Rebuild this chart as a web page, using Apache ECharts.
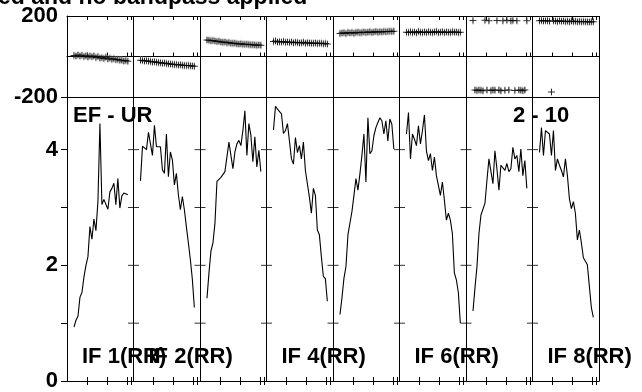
<!DOCTYPE html>
<html>
<head>
<meta charset="utf-8">
<script src="https://cdn.jsdelivr.net/npm/echarts@6/dist/echarts.min.js"></script>
<style>
  html, body { margin: 0; padding: 0; background: #fff; }
  #main { width: 642px; height: 392px; }
</style>
</head>
<body>
<div id="main"></div>
<script>
// channels plotted in every IF panel (x inside a panel = channel * CHAN_W)
const channels = [7,9,11,13,15,17,19,21,23,25,27,29,31,33,35,37,39,41,43,45,47,49,51,53,55,57,59,61];
const CHAN_W = 0.015;
const chanTicks = [20, 40, 60, 64];

// amplitude per IF
const amp1 = [0.93,1.05,1.12,1.45,1.53,1.8,2.0,2.15,2.67,2.45,2.8,2.6,3.1,4.45,3.05,3.14,3.12,2.97,3.27,3.33,3.42,3.05,3.5,2.99,3.2,3.25,3.27,3.22];
const amp2 = [3.46,4.06,4.03,4.0,4.3,4.1,3.9,4.42,4.05,4.07,4.05,3.65,3.59,4.27,3.53,3.96,3.82,3.39,3.59,3.22,2.96,3.19,2.96,2.67,2.39,2.1,1.76,1.27];
const amp3 = [1.43,1.87,2.25,2.39,2.73,3.45,3.47,3.52,3.49,3.62,3.62,4.13,3.9,3.67,3.96,4.1,4.16,4.07,4.33,4.67,3.9,4.45,4.25,3.79,4.22,3.7,3.99,3.62];
const amp4 = [4.34,4.75,4.7,4.67,4.62,4.28,4.33,4.45,4.15,3.84,3.75,4.21,3.95,4.07,3.84,4.13,3.64,3.41,3.18,2.9,3.33,3.21,2.61,2.53,2.15,1.81,1.77,1.38];
const amp5 = [1.15,1.44,1.78,1.98,2.53,2.53,2.93,3.21,3.5,3.3,3.58,3.9,4.27,3.44,4.55,3.93,3.98,4.24,4.38,4.47,4.55,4.5,4.27,4.5,4.15,4.53,4.44,4.01];
const amp6 = [4.27,4.64,3.84,4.27,4.18,4.07,4.41,4.1,4.33,4.6,3.98,3.81,3.93,3.64,3.87,3.55,3.55,3.21,3.44,3.13,2.78,2.9,2.78,2.55,1.87,1.75,1.53,1.0];
const amp7 = [1.21,1.61,1.98,2.55,2.87,2.84,3.07,3.47,3.84,3.87,3.41,3.98,3.67,3.3,3.73,3.7,3.64,3.76,3.62,3.67,4.04,3.84,3.9,3.62,4.01,3.55,3.81,3.33];
const amp8 = [3.95,4.38,3.9,4.33,4.33,4.27,3.9,4.33,3.64,3.84,3.73,3.64,3.53,3.84,3.55,3.15,2.98,3.1,2.9,2.44,2.61,2.39,2.13,2.13,2.01,1.64,1.27,1.1];

// phase (degrees) per IF
const phase1 = [5,3,8,2,6,0,4,-2,3,-1,2,-5,0,-8,-6,-10,-4,-12,-9,-14,-11,-16,-15,-19,-18,-22,-20,-24];
const phase2 = [-18,-20,-22,-21,-24,-25,-27,-26,-29,-30,-31,-33,-32,-35,-36,-37,-38,-40,-39,-42,-41,-43,-44,-45,-44,-46,-47,-48];
const phase3 = [82,80,78,79,76,74,75,72,70,71,68,69,66,65,66,63,62,63,61,60,61,59,58,58,57,56,57,55];
const phase4 = [74,76,72,73,71,74,70,71,69,72,68,70,69,67,68,70,66,68,67,65,66,67,64,66,65,63,64,62];
const phase5 = [114,116,117,113,118,116,119,115,118,120,117,119,121,118,120,122,119,121,123,120,122,121,124,122,123,125,124,125];
const phase6 = [120,118,122,119,121,117,123,120,118,121,119,122,120,118,121,123,119,120,122,118,121,120,119,122,120,121,119,120];
const phase7 = [178,-166,-168,-165,-167,-169,179,-166,177,-168,-165,-167,178,-166,-169,176,-167,179,-165,177,178,-168,176,-166,-167,-169,-165,177];
const phase8 = [176,178,175,177,176,174,-175,176,175,173,176,174,175,173,174,172,175,173,174,172,173,171,173,172,171,170,172,171];

const ampList = [amp1, amp2, amp3, amp4, amp5, amp6, amp7, amp8];
const phaseList = [phase1, phase2, phase3, phase4, phase5, phase6, phase7, phase8];

const phaseLabels = [-200, 200];
const ampLabels = [0, 2, 4];
const ifLabelPanels = [0, 1, 3, 5, 7];
const ifLabels = ['IF 1(RR)', 'IF 2(RR)', 'IF 4(RR)', 'IF 6(RR)', 'IF 8(RR)'];

const chart = echarts.init(document.getElementById('main'));

const FONT = '"Liberation Sans", Arial, sans-serif';
const tickPos = [];
for (let p = 0; p < 8; p++) chanTicks.forEach(c => tickPos.push(p + c * CHAN_W));

// axis carrying the small channel ticks
function xAx(grid, pos) {
  return {
    type: 'value', gridIndex: grid, position: pos, min: 0, max: 8, interval: 1,
    axisLine: { show: true, lineStyle: { color: '#000', width: 1 } },
    axisTick: { show: true, inside: true, length: 4, customValues: tickPos, lineStyle: { color: '#000' } },
    axisLabel: { show: false },
    splitLine: { show: false }
  };
}
// axis that only draws the panel borders
function borderAx(grid) {
  return {
    type: 'value', gridIndex: grid, position: 'bottom', min: 0, max: 8, interval: 1,
    axisLine: { show: false }, axisTick: { show: false }, axisLabel: { show: false },
    splitLine: { show: true, lineStyle: { color: '#000', width: 1 } }
  };
}

const series = [];
ampList.forEach((arr, p) => {
  series.push({
    type: 'line', xAxisIndex: 2, yAxisIndex: 1, showSymbol: false, silent: true,
    lineStyle: { color: '#000', width: 1.1 },
    data: arr.map((v, k) => [p + channels[k] * CHAN_W, v])
  });
});
const phasePts = [];
phaseList.forEach((arr, p) => arr.forEach((v, k) => phasePts.push([p + channels[k] * CHAN_W, v])));
series.push({
  type: 'scatter', xAxisIndex: 0, yAxisIndex: 0, symbol: 'rect', symbolSize: [1, 8],
  itemStyle: { color: '#a0a0a0' }, data: phasePts, z: 2, silent: true
});
series.push({
  type: 'scatter', xAxisIndex: 0, yAxisIndex: 0,
  symbol: 'path://M0,2.5H7V3.5H0Z M3,0H4V6H3Z', symbolSize: [7, 6],
  itemStyle: { color: '#000' }, data: phasePts, z: 3, silent: true
});
// tick crosses on the inner panel borders of the amplitude frame
const borderTicks = [];
for (let p = 1; p < 8; p++) for (let v = 1; v <= 4; v++) borderTicks.push([p, v]);
series.push({
  type: 'scatter', xAxisIndex: 2, yAxisIndex: 1, symbol: 'rect', symbolSize: [11, 1],
  itemStyle: { color: '#000' }, data: borderTicks, silent: true, z: 4
});

const graphic = [];
const txt = (s, x, y, align, size) => ({
  type: 'text', x: x, y: y, silent: true,
  style: { text: s, fill: '#000', font: 'bold ' + (size || 22) + 'px ' + FONT, align: align || 'left', verticalAlign: 'middle' }
});
graphic.push(txt('ed and no bandpass applied', -2, -2, 'left', 23));
graphic.push(txt('EF - UR', 73, 116));
graphic.push(txt('2 - 10', 513, 116));
ifLabels.forEach((s, i) => graphic.push(txt(s, 82 + ifLabelPanels[i] * 66.5, 357)));

const option = {
  animation: false,
  backgroundColor: '#fff',
  grid: [
    { left: 67, right: 43, top: 16, height: 81 },
    { left: 67, right: 43, top: 97, height: 288 }
  ],
  xAxis: [xAx(0, 'bottom'), xAx(0, 'top'), xAx(1, 'bottom'), xAx(1, 'top'), borderAx(0), borderAx(1)],
  yAxis: [
    {
      type: 'value', gridIndex: 0, min: -200, max: 200, interval: 200,
      axisLine: { show: true, lineStyle: { color: '#000' } },
      axisTick: { show: false },
      axisLabel: { color: '#000', fontSize: 22, fontWeight: 'bold', fontFamily: FONT, margin: 9,
        formatter: v => phaseLabels.indexOf(v) >= 0 ? String(v) : '' },
      splitLine: { show: true, lineStyle: { color: '#000', width: 1 } }
    },
    {
      type: 'value', gridIndex: 1, min: 0, max: 4.91, interval: 1,
      axisLine: { show: true, lineStyle: { color: '#000' } },
      axisTick: { show: true, length: 6, lineStyle: { color: '#000' } },
      axisLabel: { color: '#000', fontSize: 22, fontWeight: 'bold', fontFamily: FONT, margin: 9,
        formatter: v => ampLabels.indexOf(v) >= 0 ? String(v) : '' },
      splitLine: { show: false }
    },
    {
      type: 'value', gridIndex: 1, position: 'right', min: 0, max: 4.91, interval: 1,
      axisLine: { show: true, lineStyle: { color: '#000' } },
      axisTick: { show: true, inside: true, length: 6, lineStyle: { color: '#000' } },
      axisLabel: { show: false },
      splitLine: { show: false }
    }
  ],
  graphic: graphic,
  series: series
};
chart.setOption(option);
</script>
</body>
</html>
